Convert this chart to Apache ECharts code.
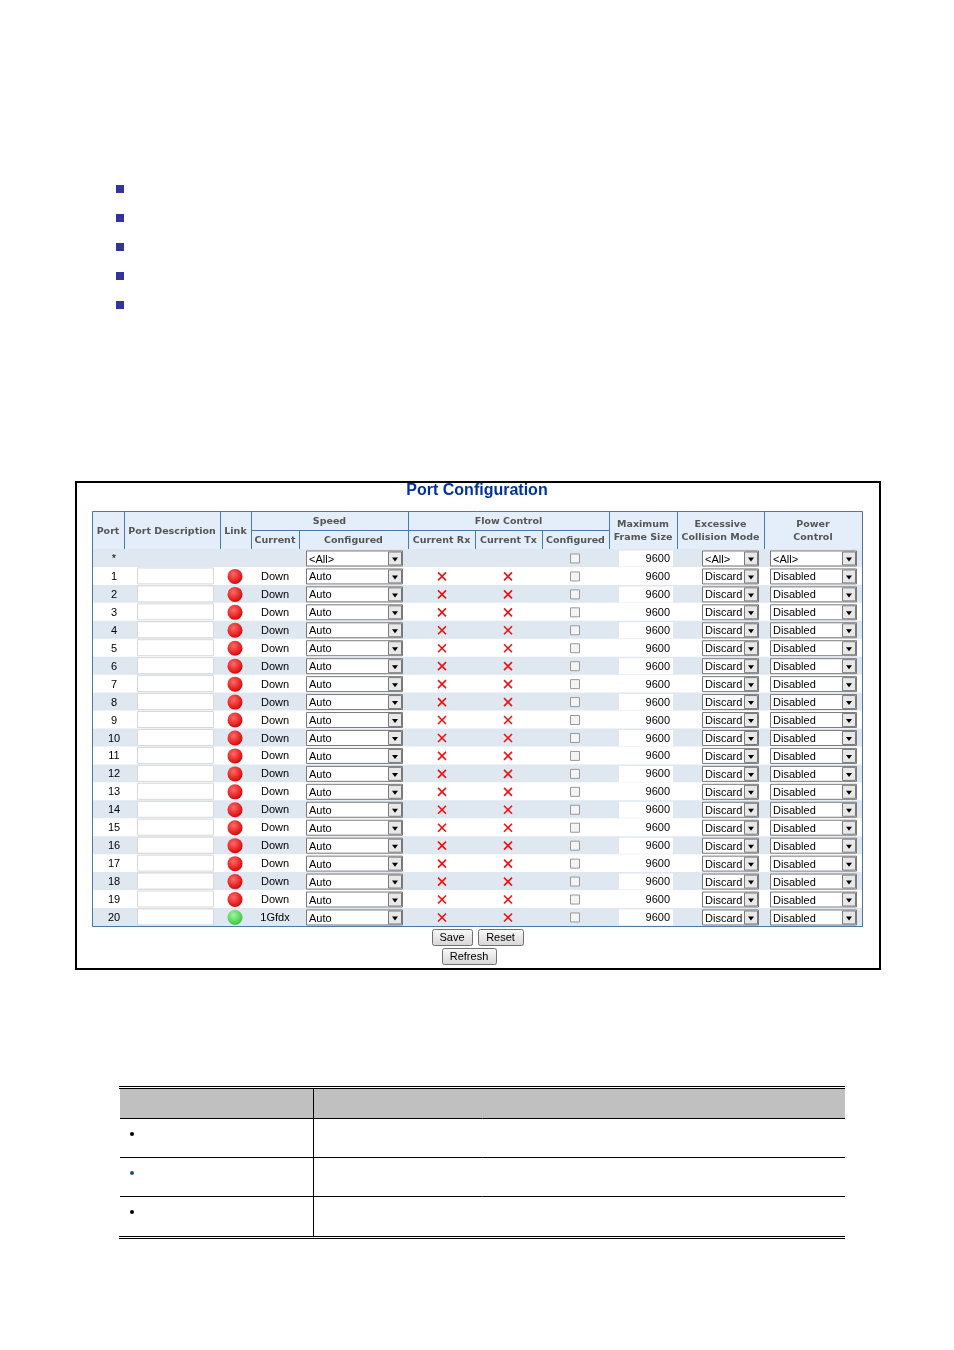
<!DOCTYPE html>
<html>
<head>
<meta charset="utf-8">
<script src="https://cdn.jsdelivr.net/npm/echarts@6/dist/echarts.min.js"></script>
<style>html,body{margin:0;background:#fff}#main{width:954px;height:1350px}</style>
</head>
<body>
<div id="main"></div>
<script>
// table data
const ports = ['*', '1', '2', '3', '4', '5', '6', '7', '8', '9', '10', '11', '12', '13', '14', '15', '16', '17', '18', '19', '20']
const linkUp = [null, 0, 0, 0, 0, 0, 0, 0, 0, 0, 0, 0, 0, 0, 0, 0, 0, 0, 0, 0, 1]
const speedCurrent = ['', 'Down', 'Down', 'Down', 'Down', 'Down', 'Down', 'Down', 'Down', 'Down', 'Down', 'Down', 'Down', 'Down', 'Down', 'Down', 'Down', 'Down', 'Down', 'Down', '1Gfdx']
const speedConfigured = ['<All>'].concat(Array(20).fill('Auto'))
const frameSize = Array(21).fill('9600')
const collisionMode = ['<All>'].concat(Array(20).fill('Discard'))
const powerControl = ['<All>'].concat(Array(20).fill('Disabled'))

const FONT = 'Arial, "Liberation Sans", sans-serif'
const HFONT = '"DejaVu Sans", Verdana, sans-serif'
const chart = echarts.init(document.getElementById('main'))
const g = []

function rect(x, y, w, h, fill, stroke, lw) {
    g.push({ type: 'rect', shape: { x: x, y: y, width: w, height: h }, style: { fill: fill || 'none', stroke: stroke || null, lineWidth: lw || 1 } })
}
function line(x1, y1, x2, y2, stroke, lw) {
    g.push({ type: 'line', shape: { x1: x1, y1: y1, x2: x2, y2: y2 }, style: { stroke: stroke, lineWidth: lw || 1 } })
}
function text(x, y, s, opt) {
    g.push({ type: 'text', x: x, y: y + 1, style: Object.assign({ text: s, fill: '#000', font: '11px ' + FONT, align: 'left', verticalAlign: 'middle' }, opt || {}) })
}
function select(x, y, w, s) {
    rect(x + 0.5, y - 7.5, w, 15, '#fff', '#7a7a7a')
    rect(x + w - 13.5, y - 6.5, 13, 13, '#e8e8e8', '#7a7a7a')
    g.push({ type: 'polygon', shape: { points: [[x + w - 10, y - 1], [x + w - 4, y - 1], [x + w - 7, y + 3]] }, style: { fill: '#000' } })
    text(x + 3, y, s)
}
function cross(x, y) {
    line(x - 4, y - 3.5, x + 4, y + 4.5, '#f01010', 1.6)
    line(x - 4, y + 4.5, x + 4, y - 3.5, '#f01010', 1.6)
}

// top bullets
for (let i = 0; i < 5; i++) rect(116, 185 + i * 29, 8, 8, '#333399')

// outer frame
rect(76, 482, 804, 487, null, '#000', 2)
text(477, 490, 'Port Configuration', { fill: '#003399', font: 'bold 16px ' + FONT, align: 'center' })

// header
const L = 92, R = 862, HT = 511, HM = 530, HB = 549, RH = 17.95
const hdrBorder = '#4a78a8'
rect(L, HT, R - L, HB - HT, '#e3eefa')
const hstyle = { fill: '#555', font: 'bold 9.5px ' + HFONT, align: 'center' }
text(108, 531, 'Port', hstyle)
text(172, 531, 'Port Description', hstyle)
text(235.5, 531, 'Link', hstyle)
text(329.5, 521, 'Speed', hstyle)
text(275, 540, 'Current', hstyle)
text(353.5, 540, 'Configured', hstyle)
text(508.5, 521, 'Flow Control', hstyle)
text(441.5, 540, 'Current Rx', hstyle)
text(508.5, 540, 'Current Tx', hstyle)
text(575.5, 540, 'Configured', hstyle)
text(643, 524, 'Maximum', hstyle)
text(643, 537, 'Frame Size', hstyle)
text(720.5, 524, 'Excessive', hstyle)
text(720.5, 537, 'Collision Mode', hstyle)
text(813, 524, 'Power', hstyle)
text(813, 537, 'Control', hstyle)
;[124, 220, 251, 408, 609, 677, 764].forEach(x => line(x + 0.5, HT, x + 0.5, HB, hdrBorder))
;[299, 475, 542].forEach(x => line(x + 0.5, HM, x + 0.5, HB, hdrBorder))
line(251, HM + 0.5, 609, HM + 0.5, hdrBorder)
line(L, HB + 0.5, R, HB + 0.5, hdrBorder)

// rows
ports.forEach((p, i) => {
    const top = HB + i * RH
    const cy = top + RH / 2
    if (i % 2 === 0) rect(L, top, R - L, RH, '#dfe7f0')
    text(114, cy, p, { align: 'center' })
    if (i > 0) {
        rect(137.5, cy - 8, 76, 16, '#fff', '#d8d8d8')
        const up = linkUp[i]
        g.push({ type: 'circle', shape: { cx: 235, cy: cy + 0.5, r: 7.5 }, style: {
            fill: new echarts.graphic.RadialGradient(0.4, 0.35, 0.7, [
                { offset: 0, color: up ? '#9ff59f' : '#ff6a6a' },
                { offset: 1, color: up ? '#35c435' : '#d80000' }]) } })
        text(275, cy, speedCurrent[i], { align: 'center' })
        cross(442, cy)
        cross(508, cy)
    }
    select(306, cy + 0.5, 96, speedConfigured[i])
    rect(570.5, cy - 4, 9, 9, '#f4f4f4', '#999')
    rect(619, cy - 7.5, 54, 16, '#fff', null)
    text(670, cy, frameSize[i], { align: 'right' })
    select(702, cy + 0.5, 56, collisionMode[i])
    select(770, cy + 0.5, 86, powerControl[i])
})
rect(L + 0.5, HT + 0.5, R - L, 926 - HT, null, hdrBorder)

// buttons
function button(x, y, w, s) {
    g.push({ type: 'rect', shape: { x: x + 0.5, y: y + 0.5, width: w, height: 16, r: 2 }, style: {
        fill: new echarts.graphic.LinearGradient(0, 0, 0, 1, [{ offset: 0, color: '#fafafa' }, { offset: 1, color: '#d6d6d6' }]),
        stroke: '#707070' } })
    text(x + w / 2, y + 8, s, { align: 'center' })
}
button(432, 929, 40, 'Save')
button(478, 929, 45, 'Reset')
button(442, 948, 54, 'Refresh')

// bottom table
line(119, 1086.5, 845, 1086.5, '#000', 1)
line(119, 1088.5, 845, 1088.5, '#000', 1)
rect(120, 1089, 725, 29, '#c0c0c0')
line(313.5, 1089, 313.5, 1237, '#000', 1)
line(120, 1118.5, 845, 1118.5, '#000', 1)
line(120, 1157.5, 845, 1157.5, '#000', 1)
line(120, 1196.5, 845, 1196.5, '#000', 1)
line(119, 1236.5, 845, 1236.5, '#000', 1)
line(119, 1238.5, 845, 1238.5, '#000', 1)
;[1134, 1173, 1212].forEach((y, i) => g.push({ type: 'circle', shape: { cx: 132, cy: y, r: 2 }, style: { fill: i === 1 ? '#1f4e79' : '#000' } }))

const option = { animation: false, graphic: g }
chart.setOption(option)
</script>
</body>
</html>
